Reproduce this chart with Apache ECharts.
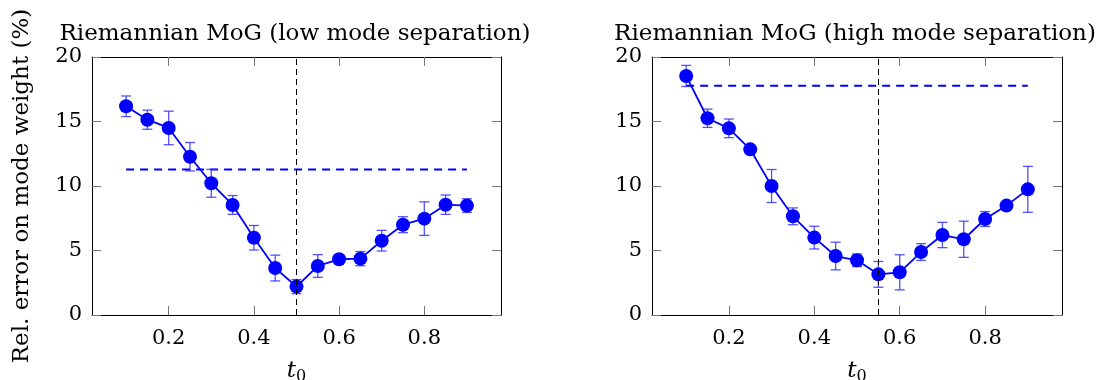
<!DOCTYPE html>
<html><head><meta charset="utf-8">
<script src="https://cdn.jsdelivr.net/npm/echarts@6/dist/echarts.min.js"></script>
<style>html,body{margin:0;padding:0;background:#fff}#c{width:1101px;height:380px}</style>
</head><body><div id="c"></div>
<script>
const t0Values = [0.1,0.15,0.2,0.25,0.3,0.35,0.4,0.45,0.5,0.55,0.6,0.65,0.7,0.75,0.8,0.85,0.9];
const lowMean  = [16.18,15.14,14.5,12.27,10.21,8.53,5.99,3.64,2.2,3.8,4.32,4.37,5.76,7.0,7.47,8.55,8.48];
const lowErr   = [0.8,0.74,1.3,1.1,1.08,0.73,0.95,1.0,0.55,0.88,0.15,0.55,0.8,0.62,1.3,0.75,0.53];
const highMean = [18.53,15.25,14.47,12.84,10.0,7.65,6.0,4.57,4.24,3.15,3.31,4.88,6.2,5.87,7.44,8.48,9.74];
const highErr  = [0.82,0.71,0.72,0.1,1.28,0.65,0.88,1.07,0.49,1.0,1.36,0.65,0.98,1.4,0.58,0.1,1.78];
const lowBaseline = 11.27;
const highBaseline = 17.78;
const lowOptimalT0 = 0.5;
const highOptimalT0 = 0.55;
const xTickValues = [0.2,0.4,0.6,0.8];
const panelTitles = ['Riemannian MoG (low mode separation)','Riemannian MoG (high mode separation)'];
const yAxisTitle = 'Rel. error on mode weight (%)';

const FONT = 'DejaVu Serif';
const BLUE = '#0000ff';
const chart = echarts.init(document.getElementById('c'));

const grids = [
  {left: 92, right: 600, top: 57, bottom: 65, outerBoundsMode: 'none', containLabel: false},
  {left: 652, right: 39, top: 57, bottom: 65, outerBoundsMode: 'none', containLabel: false}
];

function xAx(gi, pos, withLabel, withName) {
  return {
    type: 'value', gridIndex: gi, position: pos, min: 0.02, max: 0.98,
    axisLine: {show: true, onZero: false, lineStyle: {color: '#000', width: 1}},
    axisTick: {show: true, inside: true, length: 9, customValues: xTickValues, lineStyle: {color: '#777', width: 1}},
    axisLabel: {show: withLabel, customValues: xTickValues, formatter: v => v.toFixed(1), margin: 13,
      fontFamily: FONT, fontSize: 21, color: '#000'},
    splitLine: {show: false},
    name: withName ? '{t|t}{s|0}' : '', nameLocation: 'middle', nameGap: 42,
    nameTextStyle: {rich: {
      t: {fontFamily: FONT, fontStyle: 'italic', fontSize: 23, color: '#000'},
      s: {fontFamily: FONT, fontSize: 16, color: '#000', padding: [12, 0, 0, 0]}
    }}
  };
}
function yAx(gi, pos, withLabel, name) {
  return {
    type: 'value', gridIndex: gi, position: pos, min: 0, max: 20, interval: 5,
    axisLine: {show: true, onZero: false, lineStyle: {color: '#000', width: 1}},
    axisTick: {show: true, inside: true, length: 9, lineStyle: {color: '#777', width: 1}},
    axisLabel: {show: withLabel, margin: 10, fontFamily: FONT, fontSize: 21, color: '#000'},
    splitLine: {show: false},
    name: name || '', nameLocation: 'middle', nameGap: 58, nameRotate: 90,
    nameTextStyle: {fontFamily: FONT, fontSize: 23, color: '#000'}
  };
}

function errSeries(xi, yi, means, errs) {
  return {
    type: 'custom', xAxisIndex: xi, yAxisIndex: yi, z: 2,
    encode: {x: 0, y: [1, 2]},
    data: t0Values.map((t, i) => [t, means[i] - errs[i], means[i] + errs[i]]),
    renderItem: function (params, api) {
      const x = api.value(0);
      const p1 = api.coord([x, api.value(1)]);
      const p2 = api.coord([x, api.value(2)]);
      const w = 5;
      const st = {stroke: 'rgba(40,40,255,0.8)', lineWidth: 1.3};
      return {type: 'group', children: [
        {type: 'line', shape: {x1: p1[0], y1: p1[1], x2: p2[0], y2: p2[1]}, style: st},
        {type: 'line', shape: {x1: p1[0] - w, y1: p1[1], x2: p1[0] + w, y2: p1[1]}, style: st},
        {type: 'line', shape: {x1: p2[0] - w, y1: p2[1], x2: p2[0] + w, y2: p2[1]}, style: st}
      ]};
    }
  };
}
function meanSeries(xi, yi, means, optT) {
  return {
    type: 'line', xAxisIndex: xi, yAxisIndex: yi, z: 3,
    data: t0Values.map((t, i) => [t, means[i]]),
    symbol: 'circle', symbolSize: 14, showSymbol: true,
    lineStyle: {color: BLUE, width: 1.8}, itemStyle: {color: BLUE},
    markLine: {silent: true, symbol: ['none', 'none'], label: {show: false},
      lineStyle: {color: '#000', type: [6, 4], width: 1},
      data: [{xAxis: optT}]}
  };
}
function baseSeries(xi, yi, val) {
  return {
    type: 'line', xAxisIndex: xi, yAxisIndex: yi, z: 1,
    data: [[t0Values[0], val], [t0Values[t0Values.length - 1], val]],
    symbol: 'none', lineStyle: {color: BLUE, width: 2, type: [8, 6]}
  };
}

chart.setOption({
  animation: false,
  backgroundColor: '#fff',
  grid: grids,
  xAxis: [xAx(0, 'bottom', true, true), xAx(0, 'top', false, false), xAx(1, 'bottom', true, true), xAx(1, 'top', false, false)],
  yAxis: [yAx(0, 'left', true, yAxisTitle), yAx(0, 'right', false), yAx(1, 'left', true), yAx(1, 'right', false)],
  graphic: [
    {type: 'text', x: 295, y: 34, style: {text: panelTitles[0], align: 'center', verticalAlign: 'middle', font: '23px "' + FONT + '"', fill: '#000'}},
    {type: 'text', x: 855, y: 34, style: {text: panelTitles[1], align: 'center', verticalAlign: 'middle', font: '23px "' + FONT + '"', fill: '#000'}}
  ],
  series: [
    baseSeries(0, 0, lowBaseline), errSeries(0, 0, lowMean, lowErr), meanSeries(0, 0, lowMean, lowOptimalT0),
    baseSeries(2, 2, highBaseline), errSeries(2, 2, highMean, highErr), meanSeries(2, 2, highMean, highOptimalT0)
  ]
});
</script></body></html>
